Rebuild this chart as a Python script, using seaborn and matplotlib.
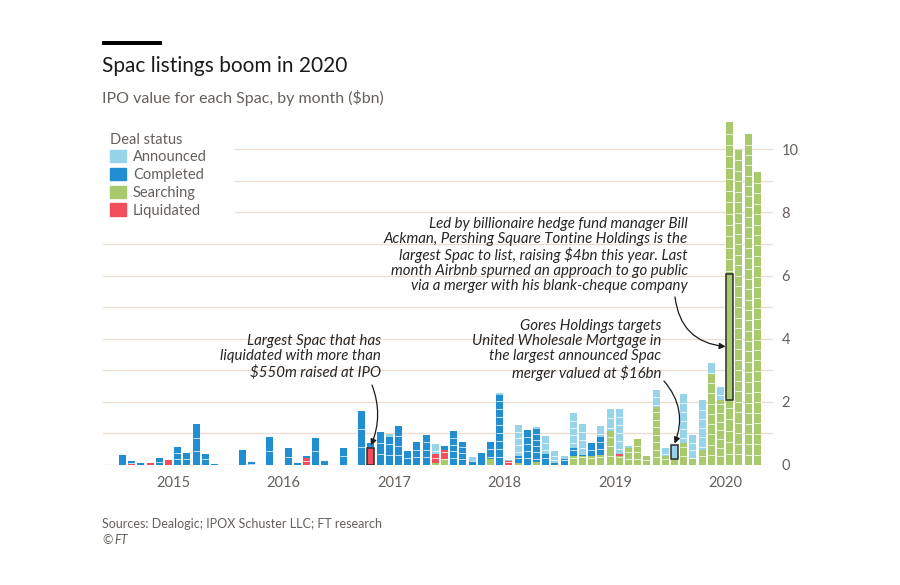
"""
plot.py
-------
Spac listings boom in 2020 - IPO value for each Spac, by month ($bn).
Stacked monthly bars by deal status, FT style.
"""

import numpy as np
import pandas as pd
import matplotlib
matplotlib.use("Agg")
import matplotlib.pyplot as plt
from matplotlib.patches import Patch, Rectangle
import seaborn as sns

# ── Data ($bn per month, Jan 2015 - Oct 2020) ────────────────────────────────
months = [f"{y}-{m:02d}" for y in range(2015, 2021) for m in range(1, 13)][:70]

announced = [
    0, 0, 0, 0, 0, 0, 0, 0, 0, 0, 0, 0,                                  # 2015
    0, 0, 0, 0, 0, 0, 0, 0, 0, 0, 0, 0,                                  # 2016
    0, 0, 0, 0, 0, 0.10, 0, 0, 0, 0, 0.31, 0,                            # 2017
    0, 0, 0.10, 0, 0, 0.06, 0.04, 1.00, 0, 0.05, 0.57, 0.40,             # 2018
    0.10, 1.09, 1.00, 0, 0.33, 0.69, 1.42, 0.05, 0, 0, 0.53, 0.24,       # 2019
    0.44, 1.56, 0.76, 1.58, 0.36, 0.42, 0, 0, 0, 0,                      # 2020
]
completed = [
    0.31, 0.08, 0.06, 0, 0.22, 0, 0.57, 0.38, 1.29, 0.35, 0.03, 0,
    0, 0.46, 0.09, 0, 0.90, 0, 0.53, 0.05, 0.05, 0.86, 0.14, 0,
    0.54, 0, 1.70, 0.16, 1.03, 0.88, 1.23, 0.45, 0.73, 0.96, 0, 0.13,
    1.08, 0.74, 0.14, 0.37, 0.56, 2.21, 0, 0.22, 1.11, 1.04, 0.36, 0.05,
    0.20, 0.28, 0.04, 0.44, 0.58, 0, 0, 0, 0, 0, 0, 0,
    0, 0, 0, 0, 0, 0, 0, 0, 0, 0,
]
searching = [
    0, 0, 0, 0, 0, 0, 0, 0, 0, 0, 0, 0,
    0, 0, 0, 0, 0, 0, 0, 0, 0, 0, 0, 0,
    0, 0, 0, 0, 0, 0, 0, 0, 0, 0, 0.05, 0.18,
    0, 0, 0, 0, 0.18, 0, 0, 0.05, 0, 0.10, 0, 0,
    0, 0.27, 0.27, 0.27, 0.32, 1.08, 0.28, 0.55, 0.81, 0.29, 1.85, 0.30,
    0.20, 0.69, 0.19, 0.47, 2.88, 2.06, 10.86, 9.99, 10.47, 9.27,
]
liquidated = [
    0, 0.04, 0, 0.05, 0, 0.17, 0, 0, 0, 0, 0, 0,
    0, 0, 0, 0, 0, 0, 0, 0, 0.22, 0, 0, 0,
    0, 0, 0, 0.53, 0, 0, 0, 0, 0, 0, 0.31, 0.30,
    0, 0, 0, 0, 0, 0, 0.12, 0, 0, 0, 0, 0,
    0, 0, 0, 0, 0, 0, 0.06, 0, 0, 0, 0, 0,
    0, 0, 0, 0, 0, 0, 0, 0, 0, 0,
]
# number of Spacs listed each month (one stacked block each)
n_spacs = [
    1, 2, 1, 1, 2, 1, 3, 2, 3, 2, 1, 0,
    0, 1, 2, 0, 2, 0, 2, 1, 2, 2, 1, 0,
    2, 0, 3, 2, 3, 3, 4, 2, 3, 4, 3, 3,
    5, 4, 2, 1, 3, 9, 2, 6, 5, 6, 4, 3,
    2, 7, 5, 3, 5, 6, 7, 3, 4, 2, 10, 3,
    3, 8, 4, 7, 10, 9, 30, 30, 32, 28,
]

years = ["2015", "2016", "2017", "2018", "2019", "2020"]

# highlighted deals: Liquidated record, Gores Holdings, Pershing Square Tontine
hl_months = ["2017-04", "2020-01", "2020-07"]
hl_status = ["Liquidated", "Announced", "Searching"]
hl_bottom = [0.0, 0.20, 2.05]
hl_size = [0.53, 0.44, 3.99]

# ── Style ────────────────────────────────────────────────────────────────────
COLORS = {"Announced": "#97d4e9", "Completed": "#208ed0",
          "Searching": "#a9ca6c", "Liquidated": "#f34e5c"}
GRID = "#eddcd0"
GREY = "#66605c"
BAR_W = 0.76

sns.set_theme(style="white")
plt.rcParams["font.family"] = ["Lato", "DejaVu Sans"]

df = pd.DataFrame({"month": months, "announced": announced,
                   "completed": completed, "searching": searching,
                   "liquidated": liquidated, "n": n_spacs})
# stacking order bottom -> top: searching, liquidated, completed, announced
df["s"] = df["searching"]
df["sl"] = df["s"] + df["liquidated"]
df["slc"] = df["sl"] + df["completed"]
df["total"] = df["slc"] + df["announced"]

fig = plt.figure(figsize=(9, 5.85), dpi=100)
ax = fig.add_axes([103 / 900, 1 - 465 / 585, (773 - 103) / 900, 353.6 / 585])

for col, status in [("total", "Announced"), ("slc", "Completed"),
                    ("sl", "Liquidated"), ("s", "Searching")]:
    sns.barplot(data=df, x="month", y=col, order=months, color=COLORS[status],
                saturation=1, width=BAR_W, errorbar=None, linewidth=0,
                ax=ax, zorder=2)

# white separators between individual Spacs
for i, row in df.iterrows():
    n = int(row["n"])
    if n > 1:
        ys = row["total"] * np.arange(1, n) / n
        ax.hlines(ys, i - BAR_W / 2, i + BAR_W / 2, color="white",
                  lw=0.7, alpha=0.75, zorder=3)

# outlined highlight deals
for m, st, b, h in zip(hl_months, hl_status, hl_bottom, hl_size):
    ax.bar(months.index(m), h, bottom=b, width=BAR_W, color=COLORS[st],
           edgecolor="#2b2b2b", linewidth=1.1, zorder=4)

# ── Axes ─────────────────────────────────────────────────────────────────────
ax.set_xlim(-2.13, 70.7)
ax.set_ylim(0, 11.2)
for s in ax.spines.values():
    s.set_visible(False)

ax.yaxis.tick_right()
ax.set_yticks(range(11))
ax.set_yticklabels([str(v) if v % 2 == 0 else "" for v in range(11)])
ax.tick_params(axis="y", length=0, pad=6, labelsize=10.5, labelcolor=GREY)
ax.grid(axis="y", color=GRID, lw=0.9, zorder=0)
ax.set_axisbelow(True)

ax.set_xticks([12 * k - 0.5 for k in range(6)])
ax.set_xticklabels([])
ax.set_xticks([12 * k + 5.5 for k in range(6)], minor=True)
ax.set_xticklabels(years, minor=True)
ax.tick_params(axis="x", which="major", length=8, color=GRID, width=1)
ax.tick_params(axis="x", which="minor", length=0, pad=8, labelsize=10.5,
               labelcolor=GREY)
ax.set_xlabel("")
ax.set_ylabel("")

# ── Titles / legend ──────────────────────────────────────────────────────────
fig.add_artist(Rectangle((102 / 900, 1 - 45 / 585), 60 / 900, 4 / 585,
                         transform=fig.transFigure, color="black", lw=0))
fig.text(102 / 900, 1 - 66 / 585, "Spac listings boom in 2020", fontsize=15,
         color="#1a1a1a", va="center")
fig.text(102 / 900, 1 - 98 / 585, "IPO value for each Spac, by month ($bn)",
         fontsize=11.5, color=GREY, va="center")

fig.add_artist(Rectangle((100 / 900, 1 - 224 / 585), 135 / 900, 96 / 585,
                         transform=fig.transFigure, color="white", lw=0,
                         zorder=1))
handles = [Patch(color=COLORS[k]) for k in ["Announced", "Completed",
                                            "Searching", "Liquidated"]]
leg = fig.legend(handles, ["Announced", "Completed", "Searching", "Liquidated"],
                 title="Deal status", loc="upper left",
                 bbox_to_anchor=(98 / 900, 1 - 121 / 585), frameon=False,
                 fontsize=10.5, title_fontsize=10.5, handlelength=1.1,
                 handleheight=0.9, handletextpad=0.5, labelspacing=0.25,
                 borderpad=0.3)
leg._legend_box.align = "left"
for t in leg.get_texts():
    t.set_color(GREY)
leg.get_title().set_color(GREY)

# ── Annotations ──────────────────────────────────────────────────────────────
note_kw = dict(fontsize=10.8, style="italic", color="#262626", ha="right",
               va="center", linespacing=1.1)
fig.text(688 / 900, 1 - 255 / 585,
         "Led by billionaire hedge fund manager Bill\n"
         "Ackman, Pershing Square Tontine Holdings is the\n"
         "largest Spac to list, raising $4bn this year. Last\n"
         "month Airbnb spurned an approach to go public\n"
         "via a merger with his blank-cheque company", **note_kw)
fig.text(661 / 900, 1 - 350 / 585,
         "Gores Holdings targets\n"
         "United Wholesale Mortgage in\n"
         "the largest announced Spac\n"
         "merger valued at $16bn", **note_kw)
fig.text(381 / 900, 1 - 357 / 585,
         "Largest Spac that has\n"
         "liquidated with more than\n"
         "$550m raised at IPO", **note_kw)

arrow_kw = dict(arrowstyle="-|>", color="#1a1a1a", lw=0.9, mutation_scale=9,
                shrinkA=0, shrinkB=0)
ax.annotate("", xy=(65.55, 3.75), xytext=(675 / 900, 1 - 297 / 585),
            textcoords="figure fraction",
            arrowprops=dict(connectionstyle="arc3,rad=0.4", **arrow_kw))
ax.annotate("", xy=(60, 0.68), xytext=(664 / 900, 1 - 381 / 585),
            textcoords="figure fraction",
            arrowprops=dict(connectionstyle="arc3,rad=-0.3", **arrow_kw))
ax.annotate("", xy=(27, 0.62), xytext=(372 / 900, 1 - 385 / 585),
            textcoords="figure fraction",
            arrowprops=dict(connectionstyle="arc3,rad=-0.2", **arrow_kw))

# ── Footer ───────────────────────────────────────────────────────────────────
fig.text(102 / 900, 1 - 524 / 585,
         "Sources: Dealogic; IPOX Schuster LLC; FT research",
         fontsize=9, color=GREY, va="center")
fig.text(102 / 900, 1 - 540 / 585, "©", fontsize=9, color=GREY, va="center")
fig.text(114 / 900, 1 - 540 / 585, "FT", fontsize=9, color=GREY, va="center",
         style="italic")

fig.savefig("out.png", dpi=100, facecolor="white")
